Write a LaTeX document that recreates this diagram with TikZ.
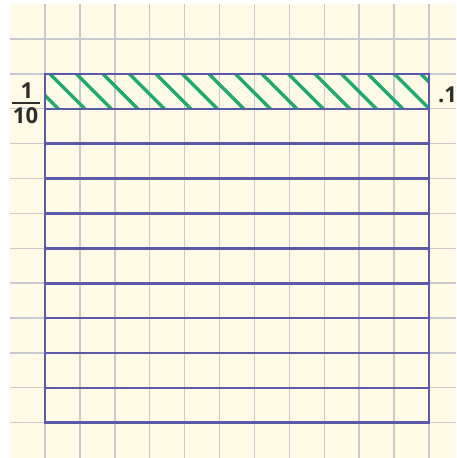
\documentclass[tikz,border=0pt]{standalone}
\usepackage{fontspec}
\setmainfont{Open Sans}
\definecolor{cream}{RGB}{255,251,230}
\definecolor{gridgray}{RGB}{200,200,208}
\definecolor{frame}{RGB}{92,90,168}
\definecolor{hatch}{RGB}{30,170,110}
\definecolor{txt}{RGB}{45,45,45}
\tikzset{
  gridline/.style={draw=gridgray,line width=1.4pt},
  frameline/.style={draw=frame,line width=2.6pt},
  hatchline/.style={draw=hatch,line width=3.4pt},
  lbl/.style={text=txt,font=\fontsize{22}{25}\selectfont\bfseries,inner sep=0pt}
}
\begin{document}
\begin{tikzpicture}[x=1pt,y=-1pt]
\useasboundingbox (0,0) rectangle (456,458);
\fill[cream] (10,4) rectangle (456,458);
% grid
\foreach \k in {0,...,11} {
  \draw[gridline] ({45+34.91*\k},4) -- ({45+34.91*\k},458);
}
\foreach \k in {0,...,11} {
  \draw[gridline] (10,{39+34.87*\k}) -- (456,{39+34.87*\k});
}
% hatching of top row
\begin{scope}
  \clip (45,74) rectangle (429,108.9);
  \foreach \i in {-2,...,15} {
    \draw[hatchline] ({50+26.5*\i-10},{74-10}) -- ({50+26.5*\i+44.9},{108.9+10});
  }
\end{scope}
% frame and rows
\foreach \k in {1,...,9} {
  \draw[frameline] (45,{74+34.87*\k}) -- (429,{74+34.87*\k});
}
\draw[frameline] (45,74) rectangle (429,422.7);
% labels
\node[lbl] (one) at (27,90.8) {1};
\draw[txt,line width=1.8pt] (12,103.3) -- (40,103.3);
\node[lbl] (ten) at (25.5,115.8) {10};
\node[lbl] (dec) at (447.5,95) {.1};
\end{tikzpicture}
\end{document}
